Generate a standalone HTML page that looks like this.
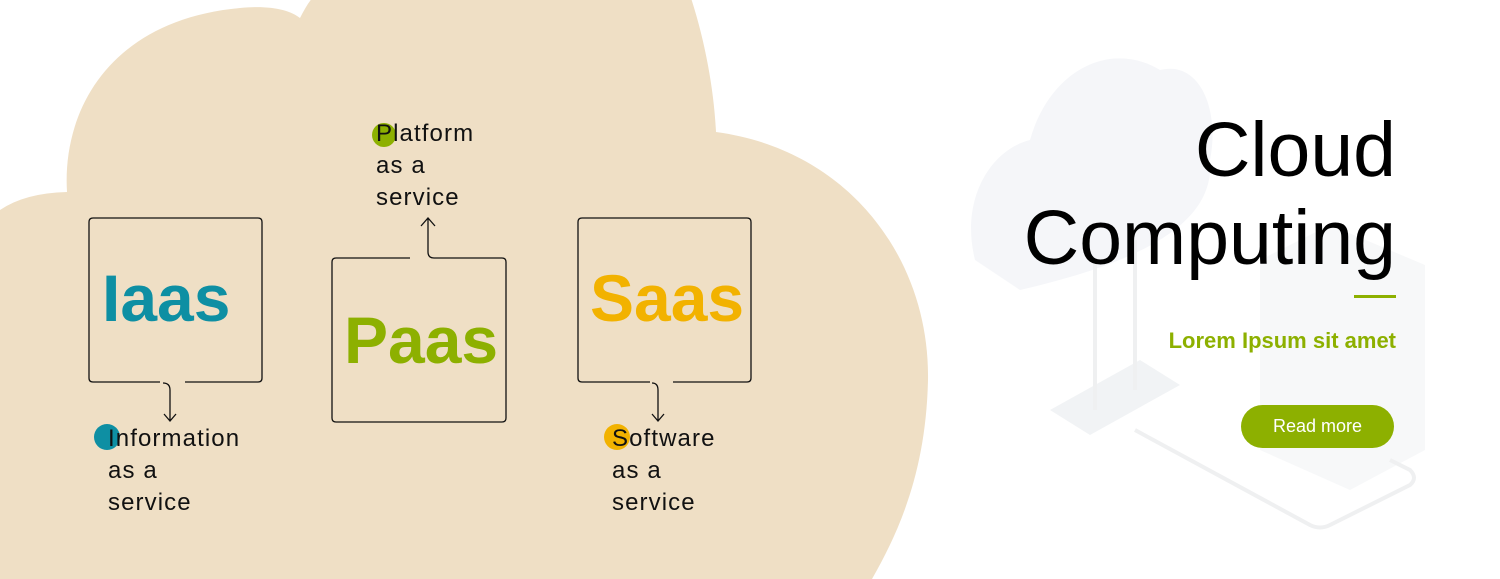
<!DOCTYPE html>
<html><head><style>
body{margin:0;width:1500px;height:579px;overflow:hidden;background:#fff;position:relative;font-family:"Liberation Sans",sans-serif}
.t{position:absolute;font-size:24px;line-height:32px;color:#111;letter-spacing:1.1px}
.big{position:absolute;font-family:"Liberation Sans",sans-serif;font-size:66px;letter-spacing:0px;font-weight:bold;line-height:80px}
</style></head><body>
<svg width="1500" height="579" style="position:absolute;left:0;top:0">
<path d="M0,579 L0,210 Q25,193 67,192 C62,110 110,20 240,8 C270,5 290,10 300,18 C305,8 310,0 315,-5 L690,-5 C705,40 714,90 716,132 C850,150 930,260 928,380 C926,470 900,530 872,579 Z" fill="#efdfc5"/>
<g fill="#f5f6f9">
<path d="M975,260 C960,200 990,150 1030,140 C1050,70 1110,40 1160,70 C1200,60 1220,110 1210,160 C1215,220 1150,260 1020,290 Z"/>
<path d="M1050,410 L1140,360 L1180,385 L1090,435 Z" fill="#f1f3f5"/>
<path d="M1260,260 L1330,225 L1425,265 L1425,450 L1350,490 L1260,450 Z" fill="#f7f8f9"/>
</g>
<g stroke="#eff0f1" stroke-width="4" fill="none">
<line x1="1095" y1="260" x2="1095" y2="410"/><line x1="1135" y1="240" x2="1135" y2="390"/>
<path d="M1135,430 L1310,525 Q1320,530 1330,525 L1410,485 Q1418,478 1410,470 L1390,460"/>
</g>
<g stroke="#111" stroke-width="1.3" fill="none">
<path d="M160,382 L93,382 Q89,382 89,378 L89,222 Q89,218 93,218 L258,218 Q262,218 262,222 L262,378 Q262,382 258,382 L185,382"/>
<path d="M163,383 Q170,383 170,390 L170,421 M164,414 L170,421 L176,414"/>
<path d="M410,258 L336,258 Q332,258 332,262 L332,418 Q332,422 336,422 L502,422 Q506,422 506,418 L506,262 Q506,258 502,258 L434,258 Q428,258 428,252 L428,218 M421,226 L428,218 L435,226"/>
<path d="M650,382 L582,382 Q578,382 578,378 L578,222 Q578,218 582,218 L747,218 Q751,218 751,222 L751,378 Q751,382 747,382 L673,382"/>
<path d="M652,383 Q658,383 658,390 L658,421 M652,414 L658,421 L664,414"/>
</g>
<circle cx="384" cy="135" r="12" fill="#8db000"/>
<circle cx="107" cy="437" r="13" fill="#0e8fa3"/>
<circle cx="617" cy="437" r="13" fill="#f2b200"/>
<rect x="1354" y="295" width="42" height="3" fill="#8db000"/>
<rect x="1241" y="405" width="153" height="43" rx="21.5" fill="#8db000"/>
</svg>
<div class="big" style="left:102px;top:258px;color:#0e8fa3">Iaas</div>
<div class="big" style="left:344px;top:300px;color:#8db000">Paas</div>
<div class="big" style="left:590px;top:258px;color:#f2b200">Saas</div>
<div class="t" style="left:376px;top:118px">Platform<br>as a<br>service</div>
<div class="t" style="left:108px;top:423px">Information<br>as a<br>service</div>
<div class="t" style="left:612px;top:423px">Software<br>as a<br>service</div>
<div style="position:absolute;right:104px;top:106px;font-size:77px;line-height:88px;text-align:right;color:#000">Cloud<br>Computing</div>
<div style="position:absolute;right:104px;top:328px;font-size:22px;font-weight:bold;color:#8db000">Lorem Ipsum sit amet</div>
<div style="position:absolute;left:1241px;width:153px;top:405px;line-height:43px;text-align:center;color:#fff;font-size:18px">Read more</div>
</body></html>
